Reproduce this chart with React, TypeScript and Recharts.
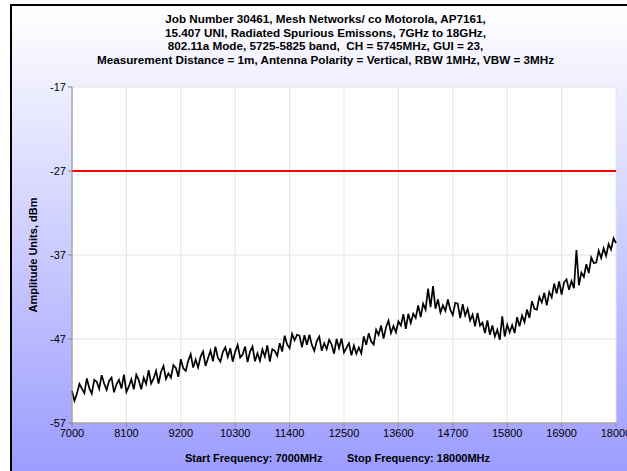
import React from 'react';
import { LineChart, Line, XAxis, YAxis, CartesianGrid, ReferenceLine } from 'recharts';

const titleLines = [
  'Job Number 30461, Mesh Networks/ co Motorola, AP7161,',
  '15.407 UNI, Radiated Spurious Emissons, 7GHz to 18GHz,',
  '802.11a Mode, 5725-5825 band,  CH = 5745MHz, GUI = 23,',
  'Measurement Distance = 1m, Antenna Polarity = Vertical, RBW 1MHz, VBW = 3MHz',
];

const startFreq = 7000;
const stepFreq = 50;

// sweep readings, one every 50 MHz from 7000 to 18000 MHz
const amplitude = [
  -53.2, -54.35, -53.5, -52.35, -52.9, -53.45, -51.7, -52.85,
  -53.5, -51.85, -52.1, -52.95, -51.3, -52.3, -53.05, -52.0,
  -51.6, -53.35, -52.4, -51.85, -52.9, -51.25, -53.3, -52.65,
  -51.8, -53.0, -51.25, -51.9, -53.0, -51.6, -52.35, -50.7,
  -52.3, -51.7, -50.8, -52.3, -50.9, -50.2, -51.75, -51.1,
  -51.6, -50.1, -50.45, -51.5, -49.4, -50.5, -50.8, -49.6,
  -48.8, -50.4, -49.45, -50.4, -49.1, -48.5, -50.2, -49.3,
  -48.4, -49.65, -47.9, -49.25, -49.7, -48.55, -48.0, -49.15,
  -48.1, -49.7, -48.5, -47.7, -49.2, -48.85, -47.9, -49.75,
  -48.5, -47.9, -49.65, -48.7, -49.6, -48.25, -49.1, -47.75,
  -49.7, -48.2, -48.4, -49.0, -47.5, -48.5, -46.6, -47.65,
  -48.1, -46.4, -47.15, -46.5, -46.6, -48.0, -46.55, -47.7,
  -46.5, -47.7, -48.4, -47.25, -46.7, -48.4, -47.5, -48.2,
  -47.1, -47.65, -48.75, -47.0, -48.1, -46.95, -48.6, -48.05,
  -47.5, -48.95, -47.8, -48.75, -48.0, -48.7, -46.7, -47.7,
  -46.3, -47.3, -47.65, -45.9, -46.5, -45.4, -46.95, -45.6,
  -44.8, -46.3, -45.45, -46.2, -44.9, -45.4, -44.05, -45.8,
  -44.0, -45.1, -44.0, -44.5, -43.0, -44.4, -42.8, -43.5,
  -41.0, -43.2, -40.7, -43.4, -42.3, -43.85, -43.0, -43.65,
  -42.3, -43.5, -44.15, -42.7, -42.8, -44.5, -42.85, -44.2,
  -43.4, -44.8, -44.1, -45.5, -43.9, -45.4, -45.05, -46.3,
  -44.8, -46.5, -45.4, -46.7, -45.9, -47.1, -44.3, -46.7,
  -45.3, -46.2, -45.35, -46.3, -44.4, -45.5, -44.2, -45.0,
  -43.5, -44.5, -42.5, -43.4, -43.5, -42.0, -42.65, -41.5,
  -43.0, -41.4, -42.05, -40.4, -41.6, -40.15, -41.7, -40.25,
  -39.9, -41.15, -40.1, -40.95, -36.4, -40.6, -39.1, -39.6,
  -38.1, -39.15, -37.3, -37.95, -37.9, -36.5, -37.35, -36.2,
  -37.1, -35.7, -36.35, -35.0, -35.6,
];

const xTicks = [7000, 8100, 9200, 10300, 11400, 12500, 13600, 14700, 15800, 16900, 18000];
const yTicks = [-57, -47, -37, -27, -17];
const limitLine = -27;

const data = amplitude.map((amp, i) => ({ freq: startFreq + i * stepFreq, amp }));

const font = '"Liberation Sans", Arial, sans-serif';

export default function App() {
  return (
    <div style={{ position: 'absolute', left: 0, top: 0, width: 627, height: 471, background: '#fff', overflow: 'hidden', fontFamily: font }}>
      <div
        style={{
          position: 'absolute',
          left: 10,
          top: 4,
          width: 640,
          height: 480,
          borderLeft: '2px solid #000',
          borderTop: '2px solid #000',
          background: 'linear-gradient(#ffffff, #9999ff)',
        }}
      />
      <div style={{ position: 'absolute', left: 12, width: 627, top: 12, textAlign: 'center', fontSize: 11.7, fontWeight: 'bold', lineHeight: '13.5px', color: '#000' }}>
        {titleLines.map((t) => (
          <div key={t} style={{ whiteSpace: 'pre' }}>{t}</div>
        ))}
      </div>
      <div
        style={{
          position: 'absolute',
          left: 33,
          top: 255,
          transform: 'translate(-50%, -50%) rotate(-90deg)',
          fontSize: 11,
          fontWeight: 'bold',
          whiteSpace: 'nowrap',
        }}
      >
        Amplitude Units, dBm
      </div>
      <div style={{ position: 'absolute', left: 185, top: 452, fontSize: 11, fontWeight: 'bold', whiteSpace: 'nowrap' }}>
        Start Frequency: 7000MHz
      </div>
      <div style={{ position: 'absolute', left: 347, top: 452, fontSize: 11, fontWeight: 'bold', whiteSpace: 'nowrap' }}>
        Stop Frequency: 18000MHz
      </div>
      <div style={{ position: 'absolute', left: 0, top: 0 }}>
        <LineChart width={627} height={471} data={data} margin={{ top: 87, right: 11, bottom: 18, left: 12 }}>
          <CartesianGrid fill="#fff" stroke="#e3e3e3" strokeWidth={1} />
          <XAxis
            dataKey="freq"
            type="number"
            domain={[7000, 18000]}
            ticks={xTicks}
            height={30}
            interval={0}
            stroke="#888"
            tickSize={4}
            tick={{ fill: '#000', fontSize: 11, fontFamily: font }}
          />
          <YAxis
            type="number"
            domain={[-57, -17]}
            ticks={yTicks}
            width={60}
            interval={0}
            stroke="#888"
            tickSize={4}
            tick={{ fill: '#000', fontSize: 11, fontFamily: font }}
          />
          <ReferenceLine y={limitLine} stroke="#ff0000" strokeWidth={2} />
          <Line type="linear" dataKey="amp" stroke="#000" strokeWidth={1.7} dot={false} isAnimationActive={false} />
        </LineChart>
      </div>
    </div>
  );
}
